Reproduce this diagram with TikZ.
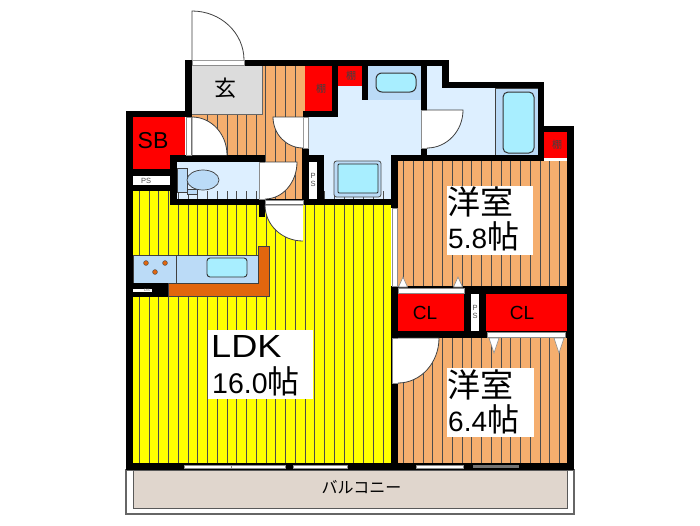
\documentclass[tikz,border=0pt]{standalone}
\usepackage{fontspec}
\setmainfont{Liberation Sans}
\newfontfamily\jpf{Noto Sans CJK JP}
\definecolor{wood}{HTML}{F5AE6E}
\definecolor{yel}{HTML}{FFFF00}
\definecolor{floorb}{HTML}{DDEFFF}
\definecolor{fixb}{HTML}{BBDBF7}
\definecolor{water}{HTML}{A8EEFF}
\definecolor{redb}{HTML}{FF0000}
\definecolor{genk}{HTML}{DCDCDC}
\definecolor{balc}{HTML}{E0D6CD}
\definecolor{count}{HTML}{E2660E}
\tikzset{
  wall/.style={fill=black},
  woodf/.style={fill=wood},
  yelf/.style={fill=yel},
  flr/.style={fill=floorb},
  redf/.style={fill=redb},
  fixt/.style={fill=fixb,draw=black!75,line width=.7pt},
  basin/.style={fill=water,draw=black!80,line width=1pt,rounded corners=5pt},
  frame/.style={fill=white,draw=black!45,line width=.7pt},
  stripe/.style={draw=black!70,line width=.9pt},
  labl/.style={inner sep=0pt,font=\jpf},
  tri/.style={fill=white,draw=black!45,line width=.6pt},
}
\newcommand{\doorq}[6]{%
  \fill[white] (#1,#2) -- (#3,#4) .. controls ({#3+.5523*(#5-#1)},{#4+.5523*(#6-#2)}) and ({#5+.5523*(#3-#1)},{#6+.5523*(#4-#2)}) .. (#5,#6) -- cycle;
  \draw[black!75,line width=.8pt] (#1,#2) -- (#3,#4) .. controls ({#3+.5523*(#5-#1)},{#4+.5523*(#6-#2)}) and ({#5+.5523*(#3-#1)},{#6+.5523*(#4-#2)}) .. (#5,#6);}
\newcommand{\rct}[5]{\path[#1] (#2,#3) rectangle (#4,#5);}
\newcommand{\stripes}[4]{\foreach \ii in {0,...,#2} \draw[stripe] ({#1+\ii*9.75},#3) -- ({#1+\ii*9.75},#4);}
\begin{document}
\begin{tikzpicture}[x=1pt,y=-1pt]
\useasboundingbox (0,0) rectangle (700,525);
\fill[white] (0,0) rectangle (700,525);
% balcony
\draw[black!60,fill=white,line width=1.2pt] (126,470) rectangle (574,514);
\draw[black!65,fill=balc,line width=1pt] (133,470) rectangle (567,508);
\node[labl,font=\jpf\fontsize{16}{16}\selectfont] (balcony) at (361.5,487) {バルコニー};
% floors
\rct{yelf}{133}{191}{391}{463}
\rct{woodf}{192}{66}{305}{199}
\rct{woodf}{398}{161}{567}{286}
\rct{woodf}{398}{338}{567}{463}
\rct{flr}{308}{100}{421}{155}
\rct{flr}{308}{155}{391}{199}
\rct{flr}{338}{66}{362}{100}
\rct{flr}{427}{66}{442}{155}
\rct{flr}{442}{88}{538}{155}
\rct{flr}{177}{162}{259}{199}
% stripes
\stripes{139.3}{25}{191}{463}
\stripes{207.7}{5}{114}{155}
\stripes{265.8}{3}{66}{199}
\stripes{403.5}{16}{161}{286}
\stripes{403.5}{16}{338}{463}
% entry
\draw[genk,fill=genk] (192,66) rectangle (262,114);
\draw[black!60,line width=.7pt] (262,66) -- (262,114) -- (192,114);
% red storage
\rct{redf}{133}{117}{185}{155}
\rct{redf}{133}{155}{170}{169}
\rct{redf}{305}{66}{332}{111}
\rct{redf}{338}{66}{362}{86}
\rct{redf}{544}{132}{567}{158}
\rct{redf}{398}{294}{464}{331}
\rct{redf}{486}{294}{567}{331}
% fixtures: basin
\path[fixt,draw=none] (368,66) rectangle (421,100);
\draw[basin,rounded corners=6pt] (376,73) rectangle (416,92);
% bath
\path[fixt] (495,88) rectangle (538,155);
\draw[basin] (503,92) rectangle (534,153);
% washer pan
\draw[fill=fixb,draw=black!70,line width=.8pt,rounded corners=2.5pt] (334,161) rectangle (381,197);
\draw[fill=water,draw=black!85,line width=.9pt,rounded corners=1pt] (338,164) rectangle (378,193);
% toilet
\path[fixt] (177,168) rectangle (187,192);
\path[fixt] (187,189) rectangle (197,194);
\draw[fixt] (203,180) ellipse [x radius=16,y radius=10];
% kitchen
\path[fixt] (133,255) rectangle (176,283);
\path[fixt] (176,255) rectangle (258,283);
\draw[basin,rounded corners=3pt,line width=.9pt] (207,258) rectangle (247,277);
\foreach \bx/\by in {146/263,165/263,155/272}
  \draw[fill=count,draw=black!70,line width=.5pt] (\bx,\by) circle (2.4pt);
\path[fill=count,draw=black!75,line width=.8pt] (258,246) -- (269,246) -- (269,296) -- (168,296) -- (168,283) -- (258,283) -- cycle;
% walls
\rct{wall}{185}{60}{192}{117}
\rct{wall}{185}{60}{449}{66}
\rct{wall}{126}{111}{192}{117}
\rct{wall}{126}{111}{133}{470}
\rct{wall}{133}{169}{170}{176}
\rct{wall}{133}{185}{170}{191}
\rct{wall}{170}{155}{177}{205}
\rct{wall}{170}{155}{265}{162}
\rct{wall}{170}{199}{397}{205}
\rct{wall}{259}{205}{265}{217}
\rct{wall}{302}{148}{309}{205}
\rct{wall}{302}{155}{324}{162}
\rct{wall}{317}{155}{324}{205}
\rct{wall}{303}{111}{338}{117}
\rct{wall}{332}{60}{338}{117}
\rct{wall}{362}{60}{368}{100}
\rct{wall}{421}{60}{427}{161}
\rct{wall}{442}{60}{449}{88}
\rct{wall}{442}{82}{544}{88}
\rct{wall}{538}{82}{544}{161}
\rct{wall}{538}{126}{574}{132}
\rct{wall}{567}{126}{574}{470}
\rct{wall}{391}{155}{544}{161}
\rct{wall}{391}{155}{398}{208}
\rct{wall}{391}{286}{574}{294}
\rct{wall}{391}{331}{574}{338}
\rct{wall}{391}{286}{398}{470}
\rct{wall}{464}{286}{471}{338}
\rct{wall}{479}{286}{486}{338}
\rct{wall}{126}{463}{574}{470}
\rct{wall}{133}{283}{168}{297}
% door frames and windows
\rct{frame}{192}{60.5}{244}{65.5}
\doorq{192}{60}{192}{11}{244}{60}
\rct{frame}{186}{117}{191.5}{155}
\doorq{192}{155}{192}{117}{227}{155}
\rct{frame}{303}{117}{308}{148}
\doorq{303}{117}{273}{117}{303}{148}
\rct{frame}{259}{162}{265}{199}
\doorq{265}{162}{297}{162}{265}{199}
\rct{frame}{265}{200}{303}{204.5}
\doorq{303}{205}{265}{205}{303}{241}
\rct{frame}{421.5}{110}{427}{148}
\doorq{427}{110}{463}{110}{427}{148}
\rct{frame}{392}{338}{398}{383}
\doorq{398}{338}{439}{338}{398}{383}
\rct{frame}{392.5}{208}{397.5}{286}
\rct{frame}{398}{288}{464}{293}
\rct{frame}{487}{332}{565}{337}
\foreach \tx in {403,458} \path[tri] (\tx-4.5,287) -- (\tx,277) -- (\tx+4.5,287) -- cycle;
\foreach \tx in {494,559} \path[tri] (\tx-5,338) -- (\tx,353) -- (\tx+5,338) -- cycle;
\rct{frame}{184}{465}{232}{468}
\rct{frame}{231}{465.5}{285}{468.5}
\rct{frame}{293}{465}{347}{468}
\rct{frame}{416}{465}{463}{468}
\path[fill=black!55] (473,465) rectangle (519,468);
% PS boxes
\path[frame,draw=none] (133,176) rectangle (170,185);
\path[frame,draw=none] (309,162) rectangle (317,199);
\path[frame,draw=none] (471.5,294) rectangle (478.5,331);
\path[frame,draw=none] (133,289) rectangle (152,292);
\node[inner sep=0pt,text=black!70,font=\fontsize{7.5}{7.5}\selectfont] (ps1) at (146,180.5) {PS};
\node[inner sep=0pt,text=black!70,align=center,font=\fontsize{7.5}{8}\selectfont] (ps2) at (313,180) {P\\S};
\node[inner sep=0pt,text=black!70,align=center,font=\fontsize{7.5}{8}\selectfont] (ps3) at (475,312) {P\\S};
\node[inner sep=0pt,text=black!60,font=\fontsize{4}{4}\selectfont] (ds) at (147,290.5) {DS};
% labels
\node[labl,font=\jpf\fontsize{22}{22}\selectfont] (gen) at (225,88) {玄};
\node[inner sep=0pt,font=\fontsize{23}{23}\selectfont] (sb) at (153,141) {SB};
\node[labl,text=black!75,font=\jpf\fontsize{10}{10}\selectfont] (t1) at (321,89) {棚};
\node[labl,text=black!75,font=\jpf\fontsize{10}{10}\selectfont] (t2) at (351,76) {棚};
\node[labl,text=black!75,font=\jpf\fontsize{10}{10}\selectfont] (t3) at (557,145) {棚};
\node[inner sep=0pt,font=\fontsize{19}{19}\selectfont] (cl1) at (425,313) {CL};
\node[inner sep=0pt,font=\fontsize{19}{19}\selectfont] (cl2) at (522,313) {CL};
\path[fill=white] (447,186) rectangle (533,255);
\path[fill=white] (447,368) rectangle (534,437);
\path[fill=white] (208,330) rectangle (313,399);
\node[labl,anchor=west,font=\jpf\fontsize{33}{33}\selectfont] (r1a) at (447,202) {洋室};
\node[labl,anchor=base west,font=\fontsize{28}{28}\selectfont] (r1b) at (448,248) {5.8{\jpf\fontsize{32}{32}\selectfont 帖}};
\node[labl,anchor=west,font=\jpf\fontsize{33}{33}\selectfont] (r2a) at (447,385) {洋室};
\node[labl,anchor=base west,font=\fontsize{28}{28}\selectfont] (r2b) at (448,431) {6.4{\jpf\fontsize{32}{32}\selectfont 帖}};
\node[labl,anchor=base west,xscale=1.13,transform shape,font=\fontsize{32}{32}\selectfont] (ldka) at (211,357) {LDK};
\node[labl,anchor=base west,font=\fontsize{28.5}{28.5}\selectfont] (ldkb) at (212,393) {16.0{\jpf\fontsize{32}{32}\selectfont 帖}};
\end{tikzpicture}
\end{document}
